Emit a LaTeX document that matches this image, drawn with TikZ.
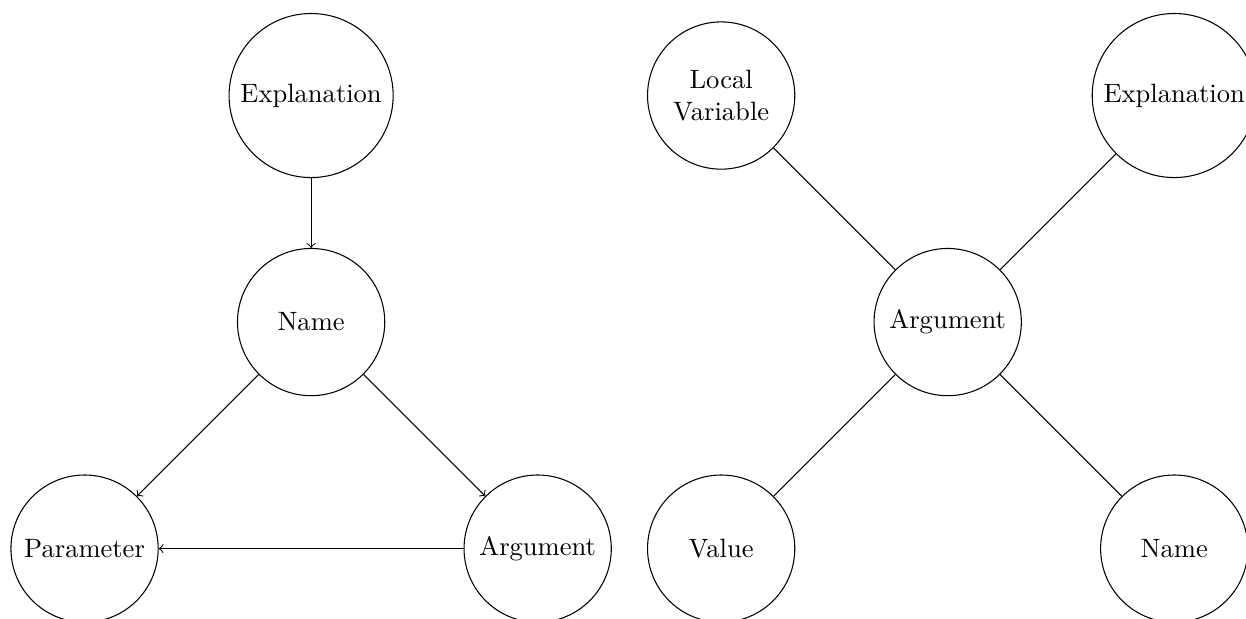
\documentclass[tikz,border=0pt]{standalone}

\begin{document}
\begin{tikzpicture}[
        font=\normalsize,
        ent/.style = {circle, draw, minimum size=1.95cm},
        line width=0.4pt
    ]
    \useasboundingbox (-4.12,-3.92) rectangle (12.38,4.265);

    % left diagram
    \node (E) at (0,3)   [ent] {Explanation};
    \node (N) at (0,0)   [ent] {Name};
    \node (P) at (-3,-3) [ent] {Parameter};
    \node (A) at (3,-3)  [ent] {Argument};

    \draw[->] (E) -- (N);
    \draw[->] (N) -- (P);
    \draw[->] (N) -- (A);
    \draw[->] (A) -- (P);

    % right diagram
    \node (A2) at (8.43,0)   [ent] {Argument};
    \node (L2) at (5.43,3)   [ent, align=center] {Local\\Variable};
    \node (E2) at (11.43,3)  [ent] {Explanation};
    \node (V2) at (5.43,-3)  [ent] {Value};
    \node (N2) at (11.43,-3) [ent] {Name};

    \draw (A2) -- (L2);
    \draw (A2) -- (E2);
    \draw (A2) -- (V2);
    \draw (A2) -- (N2);
\end{tikzpicture}
\end{document}
